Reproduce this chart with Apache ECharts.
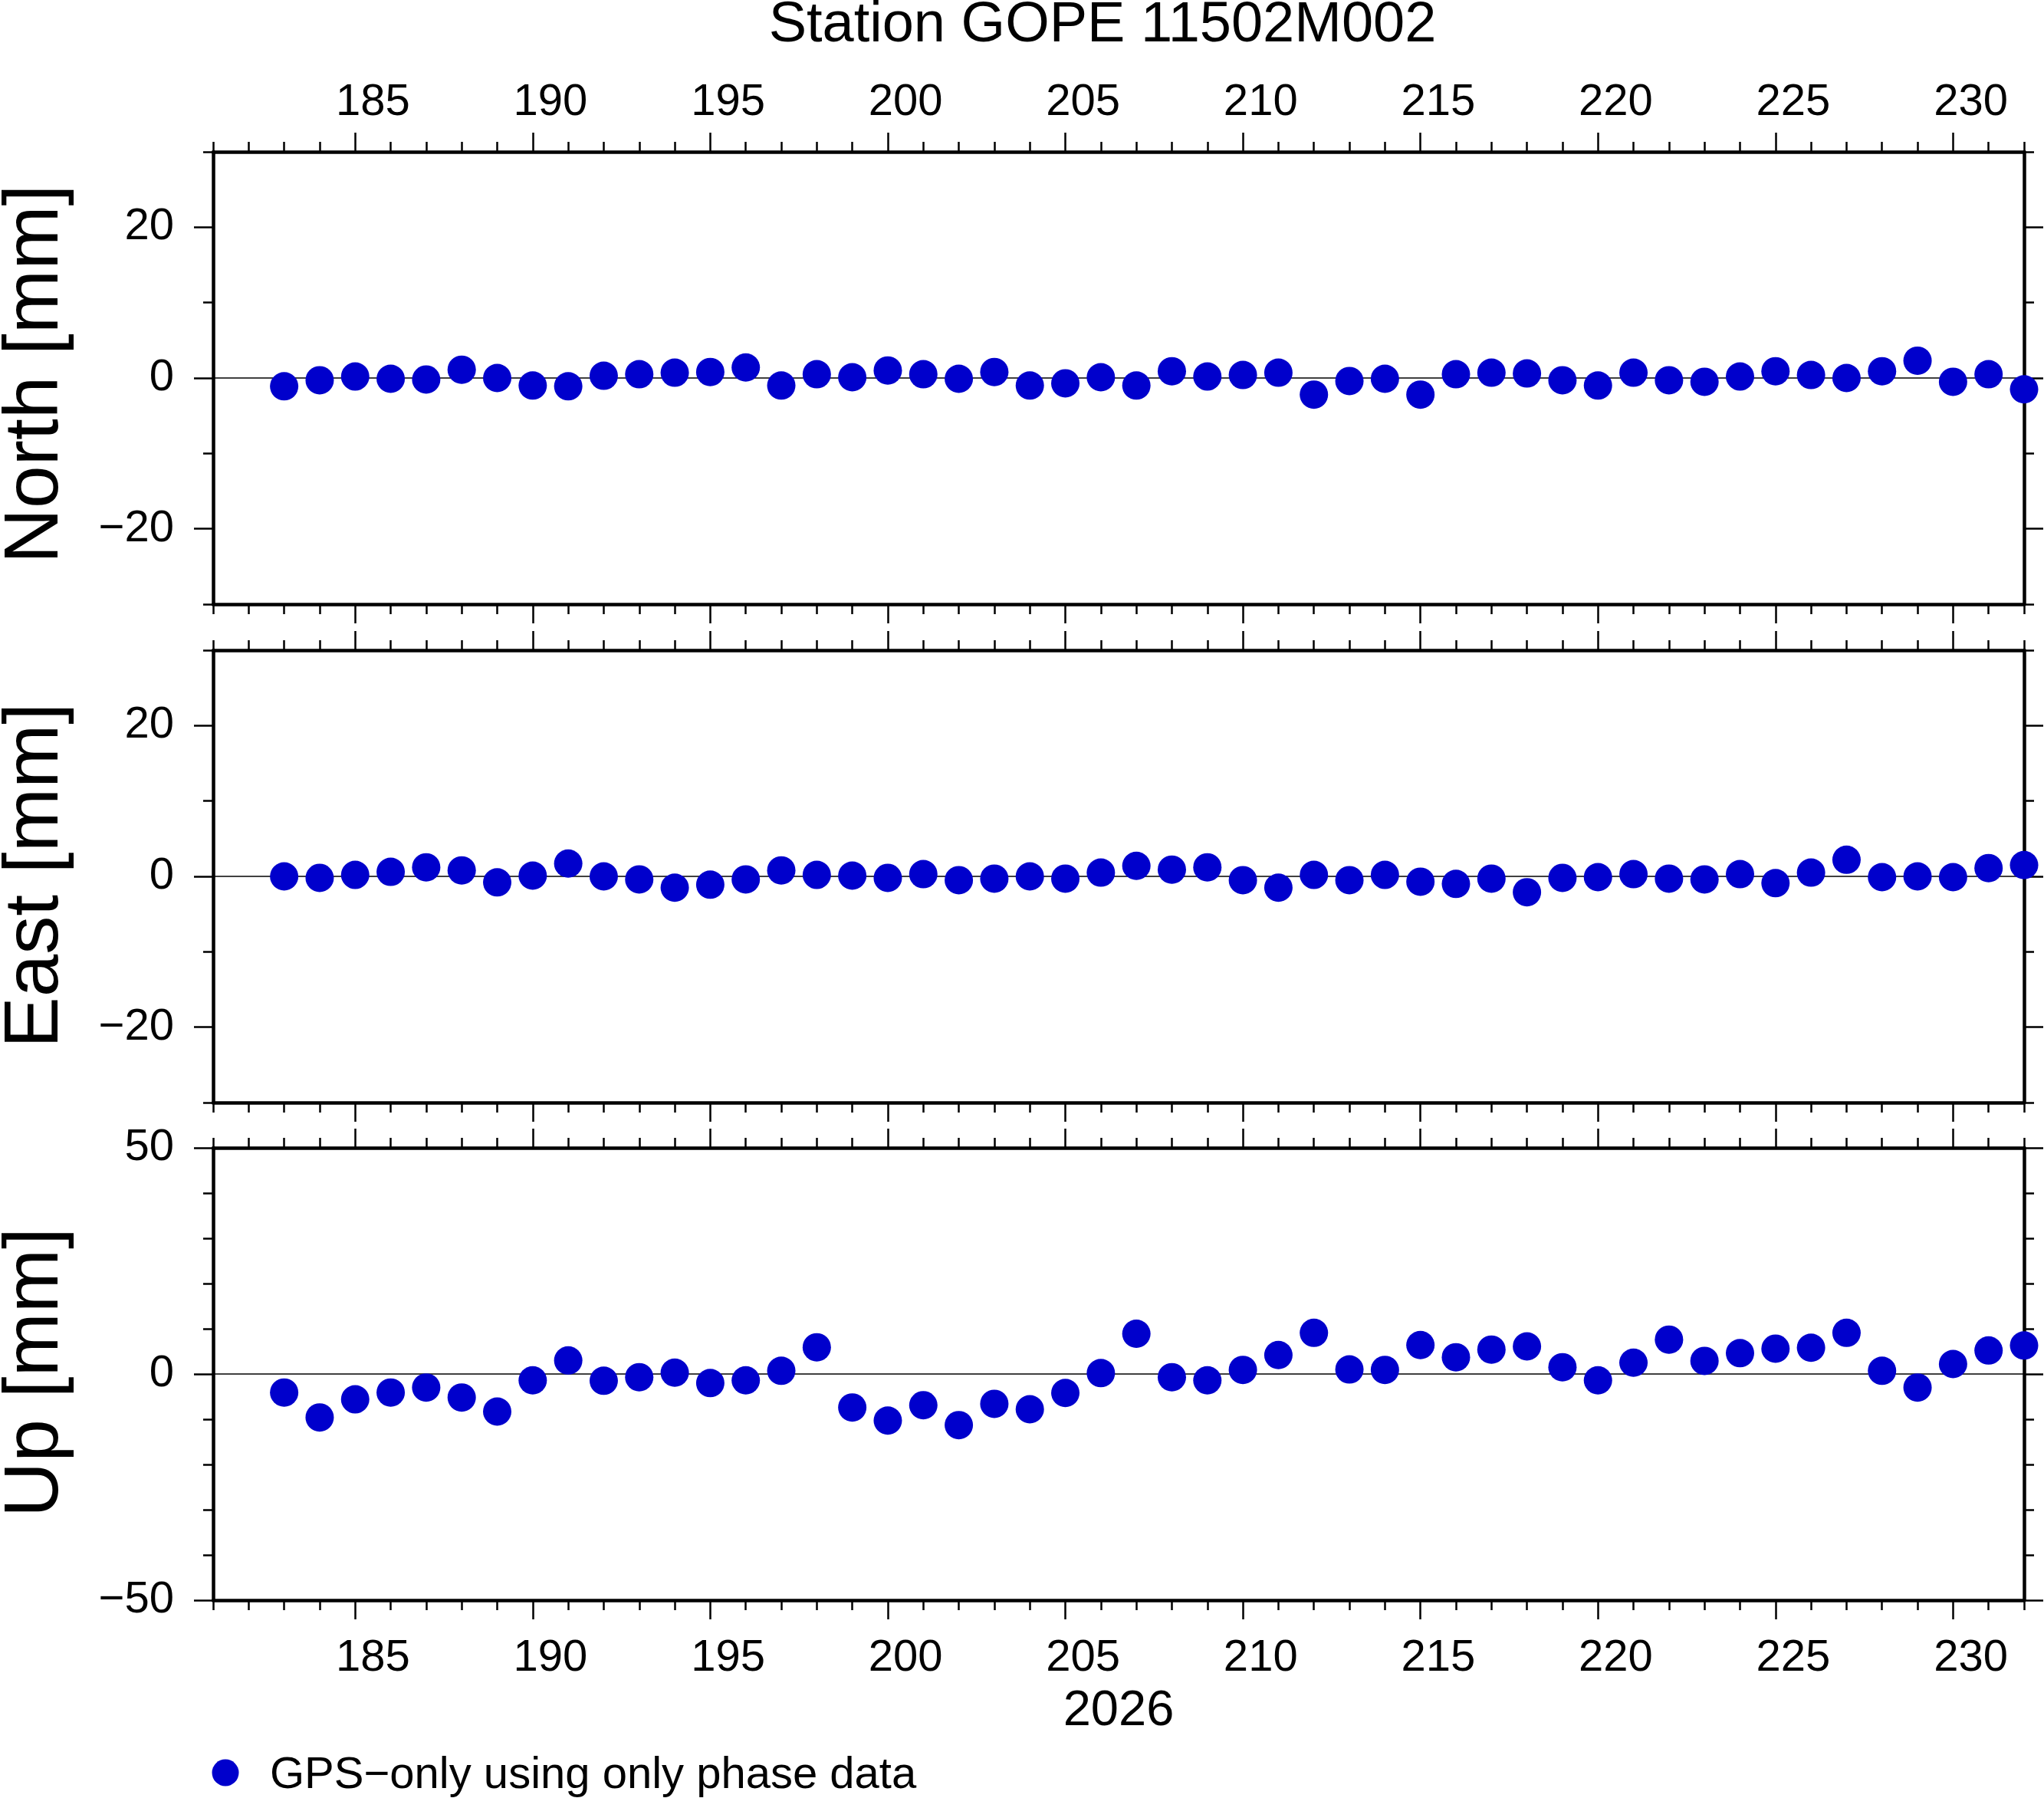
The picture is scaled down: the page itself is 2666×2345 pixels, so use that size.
<!DOCTYPE html>
<html>
<head>
<meta charset="utf-8">
<title>Station GOPE 11502M002</title>
<script src="https://cdn.jsdelivr.net/npm/echarts@6.0.0/dist/echarts.min.js"></script>
<style>
  html, body { margin: 0; padding: 0; background: #fff; }
  #main { width: 2666px; height: 2345px; }
</style>
</head>
<body>
<div id="main"></div>
<script>
// day of year 2026
const days = [183, 184, 185, 186, 187, 188, 189, 190, 191, 192, 193, 194, 195, 196, 197, 198, 199,
  200, 201, 202, 203, 204, 205, 206, 207, 208, 209, 210, 211, 212, 213, 214, 215, 216, 217, 218,
  219, 220, 221, 222, 223, 224, 225, 226, 227, 228, 229, 230, 231, 232];

const north = [-1.1, -0.3, 0.2, -0.1, -0.2, 1.1, 0.0, -1.0, -1.1, 0.3, 0.5, 0.7, 0.8, 1.4, -1.0, 0.5, 0.1,
  1.0, 0.5, -0.1, 0.8, -1.0, -0.7, 0.1, -1.0, 0.9, 0.2, 0.4, 0.7, -2.2, -0.4, -0.1, -2.2, 0.5, 0.7, 0.6,
  -0.3, -1.0, 0.7, -0.3, -0.5, 0.2, 0.9, 0.4, 0.0, 0.9, 2.3, -0.5, 0.5, -1.5];

const east = [0.0, -0.2, 0.2, 0.6, 1.2, 0.8, -0.8, 0.1, 1.7, 0.0, -0.4, -1.5, -1.1, -0.4, 0.8, 0.2, 0.1,
  -0.2, 0.3, -0.5, -0.3, 0.0, -0.3, 0.5, 1.4, 0.9, 1.2, -0.5, -1.5, 0.2, -0.5, 0.2, -0.7, -1.0, -0.3, -2.1,
  -0.2, -0.1, 0.3, -0.3, -0.4, 0.3, -0.9, 0.5, 2.2, -0.1, 0.0, -0.1, 1.1, 1.5];

const up = [-4.1, -9.6, -5.6, -4.1, -3.0, -5.2, -8.3, -1.4, 3.0, -1.5, -0.7, 0.3, -2.0, -1.4, 0.7, 5.9, -7.4,
  -10.3, -6.9, -11.3, -6.6, -7.8, -4.2, 0.2, 8.9, -0.7, -1.4, 0.9, 4.2, 9.1, 1.0, 0.9, 6.4, 3.7, 5.4, 6.1,
  1.5, -1.4, 2.5, 7.6, 2.9, 4.6, 5.6, 5.8, 9.1, 0.7, -3.0, 2.2, 5.2, 6.3];

// axis ranges and ticks
const xMin = 181, xMax = 232;
const xMajor = [185, 190, 195, 200, 205, 210, 215, 220, 225, 230];
const xLabels = [185, 190, 195, 200, 205, 210, 215, 220, 225, 230];
const neMajor = [-20, 0, 20];
const neMinor = [-30, -10, 10, 30];
const upMajor = [-50, 0, 50];
const upMinor = [-40, -30, -20, -10, 10, 20, 30, 40];
const panelNames = ['North [mm]', 'East [mm]', 'Up [mm]'];

const FONT = '"Liberation Sans", Helvetica, Arial, sans-serif';
const BLUE = '#0000CC';
const gridTops = [198, 848, 1497];
const gridH = 590;

// one tick per day for the minor ticks
const xMinor = [];
for (let d = xMin; d <= xMax; d++) xMinor.push(d);

const minus = v => String(v).replace('-', '\u2212');
const tickStyle = { color: '#000', width: 2.5 };
const frameStyle = { color: '#000', width: 4.5 };

const panels = [
  { values: north, min: -30, max: 30, major: neMajor, minor: neMinor },
  { values: east, min: -30, max: 30, major: neMajor, minor: neMinor },
  { values: up, min: -50, max: 50, major: upMajor, minor: upMinor }
];

const grid = gridTops.map(t => ({ left: 278, top: t, width: 2362, height: gridH }));
const xAxis = [];
const yAxis = [];
const series = [];

panels.forEach((p, g) => {
  const xb = { type: 'value', gridIndex: g, min: xMin, max: xMax, splitLine: { show: false }, axisLabel: { show: false } };
  ['bottom', 'top'].forEach(pos => {
    xAxis.push({ ...xb, position: pos,
      axisLine: { show: true, onZero: false, lineStyle: frameStyle },
      axisTick: { show: true, inside: false, customValues: xMajor, length: 25, lineStyle: tickStyle } });
    xAxis.push({ ...xb, position: pos,
      axisLine: { show: false, onZero: false },
      axisTick: { show: true, inside: false, customValues: xMinor, length: 13, lineStyle: tickStyle } });
  });

  const yb = { type: 'value', gridIndex: g, min: p.min, max: p.max, splitLine: { show: false } };
  ['left', 'right'].forEach(pos => {
    yAxis.push({ ...yb, position: pos,
      axisLine: { show: true, onZero: false, lineStyle: frameStyle },
      axisTick: { show: true, customValues: p.major, length: 25, lineStyle: tickStyle },
      axisLabel: pos === 'left'
        ? { show: true, customValues: p.major, margin: 51, padding: [12, 0, 0, 0], fontSize: 58, fontFamily: FONT, color: '#000', formatter: minus }
        : { show: false } });
    yAxis.push({ ...yb, position: pos,
      axisLine: { show: false, onZero: false },
      axisTick: { show: true, customValues: p.minor, length: 13, lineStyle: tickStyle },
      axisLabel: { show: false } });
  });

  // zero line under the points
  series.push({
    type: 'line', xAxisIndex: g * 4, yAxisIndex: g * 4, data: [], silent: true,
    markLine: { silent: true, z: 1, symbol: 'none', label: { show: false },
      lineStyle: { color: '#000', width: 1.5, type: 'solid' }, data: [{ yAxis: 0 }] }
  });
  series.push({
    type: 'scatter', xAxisIndex: g * 4, yAxisIndex: g * 4, z: 3, clip: false, silent: true,
    symbol: 'circle', symbolSize: 37, itemStyle: { color: BLUE, opacity: 1 },
    data: days.map((d, i) => [d, p.values[i]])
  });
});

// day labels sit half a day right of their ticks, so use shifted label axes
const labelAxis = (g, pos, margin) => ({
  type: 'value', gridIndex: g, position: pos, min: xMin - 0.5, max: xMax - 0.5,
  splitLine: { show: false }, axisLine: { show: false, onZero: false }, axisTick: { show: false },
  axisLabel: { show: true, customValues: xLabels, margin: margin, fontSize: 58, fontFamily: FONT, color: '#000' }
});
xAxis.push(labelAxis(0, 'top', 35));
xAxis.push(labelAxis(2, 'bottom', 47));

const nameY = [488, 1142, 1790];
const graphic = [
  { type: 'text', x: 1438, y: 34,
    style: { text: 'Station GOPE 11502M002', fontSize: 74, fontFamily: FONT, fill: '#000', align: 'center', verticalAlign: 'middle' } },
  { type: 'text', x: 1459, y: 2232,
    style: { text: '2026', fontSize: 65, fontFamily: FONT, fill: '#000', align: 'center', verticalAlign: 'middle' } },
  { type: 'circle', shape: { cx: 294, cy: 2312, r: 17.5 }, style: { fill: BLUE } },
  { type: 'text', x: 352, y: 2316,
    style: { text: 'GPS\u2212only using only phase data', fontSize: 58, fontFamily: FONT, fill: '#000', align: 'left', verticalAlign: 'middle' } }
];
panelNames.forEach((n, i) => {
  graphic.push({ type: 'text', x: 47, y: nameY[i], rotation: Math.PI / 2,
    style: { text: n, fontSize: 100, fontFamily: FONT, fill: '#000', align: 'center', verticalAlign: 'middle' } });
});

const chart = echarts.init(document.getElementById('main'), null, { renderer: 'canvas' });
chart.setOption({
  backgroundColor: '#fff',
  animation: false,
  grid: grid,
  xAxis: xAxis,
  yAxis: yAxis,
  series: series,
  graphic: graphic
});
</script>
</body>
</html>
